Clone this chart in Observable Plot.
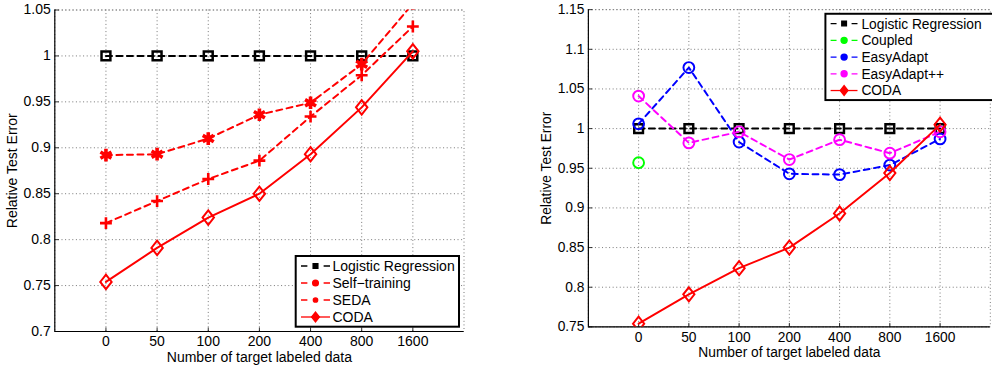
<!DOCTYPE html>
<html>
<head>
<meta charset="utf-8">
<script src="https://cdn.jsdelivr.net/npm/d3@7"></script>
<script src="https://cdn.jsdelivr.net/npm/@observablehq/plot@0.6"></script>
<style>
  html, body { margin: 0; padding: 0; background: #fff; }
  #root { position: relative; width: 992px; height: 367px; overflow: hidden; background: #fff; }
  #left { position: absolute; left: 0; top: 0; }
  #right { position: absolute; left: 500px; top: 0; }
  svg { font-family: "Liberation Sans", Arial, Helvetica, sans-serif; }
</style>
</head>
<body>
<div id="root"><div id="left"></div><div id="right"></div></div>
<script>
// ---------- data ----------
const xLabels = ["0", "50", "100", "200", "400", "800", "1600"];
const leftYTicks = [0.7, 0.75, 0.8, 0.85, 0.9, 0.95, 1, 1.05];
const rightYTicks = [0.75, 0.8, 0.85, 0.9, 0.95, 1, 1.05, 1.1, 1.15];

const logistic = [1, 1, 1, 1, 1, 1, 1];
const selfTraining = [0.892, 0.893, 0.910, 0.936, 0.949, 0.991, 1.057];
const seda = [0.818, 0.842, 0.866, 0.886, 0.934, 0.979, 1.032];
const coda = [0.754, 0.791, 0.824, 0.850, 0.893, 0.944, 1.005];
const coupled = [0.957];
const easyAdapt = [1.006, 1.077, 0.983, 0.943, 0.942, 0.954, 0.987];
const easyAdaptPP = [1.041, 0.982, 0.996, 0.961, 0.986, 0.969, 0.996];

const leftNames = ["Logistic Regression", "Self\u2212training", "SEDA", "CODA"];
const rightNames = ["Logistic Regression", "Coupled", "EasyAdapt", "EasyAdapt++", "CODA"];

// ---------- styles ----------
const tallDiamond = {
  draw(ctx, size) {
    const r = Math.sqrt(size / Math.PI);
    const w = r * 0.95, h = r * 1.2;
    ctx.moveTo(0, -h); ctx.lineTo(w, 0); ctx.lineTo(0, h); ctx.lineTo(-w, 0); ctx.closePath();
  }
};
const tickUp = {draw(ctx) { ctx.moveTo(0, 0); ctx.lineTo(0, -4); }};
const tickRight = {draw(ctx) { ctx.moveTo(0, 0); ctx.lineTo(4, 0); }};

const leftSeries = [
  {name: leftNames[0], values: logistic, color: "#000", dash: "6,4.5", symbol: "square", r: 5, sw: 2.5, legendR: 2.6},
  {name: leftNames[1], values: selfTraining, color: "#ff0000", dash: "6,4.5", symbol: "asterisk", r: 6, sw: 3.6, legendR: 2.8, legendSymbol: "circle"},
  {name: leftNames[2], values: seda, color: "#ff0000", dash: "6,4.5", symbol: "plus", r: 3.9, sw: 2.6, legendR: 2.1, legendSymbol: "circle"},
  {name: leftNames[3], values: coda, color: "#ff0000", dash: null, symbol: tallDiamond, r: 6, sw: 2, legendR: 4}
];
const rightSeries = [
  {name: rightNames[0], values: logistic, color: "#000", dash: "6,4.5", symbol: "square", r: 5, sw: 2.5, legendR: 2.6},
  {name: rightNames[1], values: coupled, color: "#00ff00", dash: "6,4.5", symbol: "circle", r: 5.5, sw: 2, legendR: 3},
  {name: rightNames[2], values: easyAdapt, color: "#0000ff", dash: "6,4.5", symbol: "circle", r: 5.5, sw: 2, legendR: 3},
  {name: rightNames[3], values: easyAdaptPP, color: "#ff00ff", dash: "6,4.5", symbol: "circle", r: 5.5, sw: 2, legendR: 3},
  {name: rightNames[4], values: coda, color: "#ff0000", dash: null, symbol: tallDiamond, r: 6, sw: 2, legendR: 4}
];

const fmt = d => String(+d.toFixed(2));
const xIdx = xLabels.map((_, i) => i);

function makeChart({series, yTicks, width, marginLeft, marginRight, marginTop, marginBottom, legend}) {
  const yDomain = [yTicks[0], yTicks[yTicks.length - 1]];
  const grid = {stroke: "#777", strokeOpacity: 1, strokeWidth: 1, strokeDasharray: "1,2.6"};
  const marks = [
    Plot.frame({...grid}),
    Plot.gridX(xIdx, grid),
    Plot.gridY(yTicks, grid),
    Plot.axisX(xIdx, {tickFormat: i => xLabels[i], tickSize: 0, tickPadding: 5, fontSize: 14, label: null}),
    Plot.axisY(yTicks, {tickFormat: fmt, tickSize: 0, tickPadding: 4, fontSize: 14, label: null}),
    Plot.dot(xIdx, {x: d => d, y: () => yDomain[0], symbol: () => tickUp, r: 1, stroke: "#000", strokeWidth: 0.8}),
    Plot.dot(yTicks, {x: () => -1, y: d => d, symbol: () => tickRight, r: 1, stroke: "#000", strokeWidth: 0.8}),
    Plot.ruleX([-1], {stroke: "#000", strokeWidth: 1.2}),
    Plot.ruleY([yDomain[0]], {stroke: "#000", strokeWidth: 1.2}),
    Plot.text(["Number of target labeled data"], {frameAnchor: "bottom", lineAnchor: "middle", textAnchor: "middle", dy: 26.5, fontSize: 14, fill: "#000"}),
    Plot.text(["Relative Test Error"], {frameAnchor: "left", lineAnchor: "middle", textAnchor: "middle", dx: -42.5, rotate: -90, fontSize: 14, fill: "#000"})
  ];
  for (const s of series) {
    const data = s.values.map((v, i) => ({i, v}));
    if (data.length > 1) {
      marks.push(Plot.line(data, {x: "i", y: "v", stroke: s.color, strokeWidth: 2, strokeDasharray: s.dash || undefined, clip: true}));
    }
    marks.push(Plot.dot(data, {x: "i", y: "v", symbol: () => s.symbol, r: s.r, stroke: s.color, strokeWidth: s.sw, fill: "none", clip: true}));
  }
  const svg = Plot.plot({
    width, height: 367, marginLeft, marginRight, marginTop, marginBottom,
    style: {fontFamily: '"Liberation Sans", Arial, Helvetica, sans-serif', fontSize: "14px", color: "#000", background: "#fff", overflow: "visible"},
    x: {type: "linear", domain: [-1, 7]},
    y: {type: "linear", domain: yDomain},
    marks
  });
  // legend
  const g = d3.select(svg).append("g").attr("text-anchor", "start");
  g.append("rect").attr("x", legend.x).attr("y", legend.y).attr("width", legend.w).attr("height", legend.h)
    .attr("fill", "#fff").attr("stroke", "#000").attr("stroke-width", 2);
  series.forEach((s, k) => {
    const cy = legend.y + 10 + k * legend.dy;
    const len = legend.lx2 - legend.lx1;
    g.append("line").attr("x1", legend.lx1).attr("x2", legend.lx2).attr("y1", cy).attr("y2", cy)
      .attr("stroke", s.color).attr("stroke-width", 1.3)
      .attr("stroke-dasharray", s.dash ? `${len * 0.22},${len * 0.56}` : null);
    const sym = s.legendSymbol === "circle" ? d3.symbolCircle : (s.symbol === "square" ? d3.symbolSquare : (s.symbol === "circle" ? d3.symbolCircle : tallDiamond));
    const rr = s.legendR;
    g.append("path").attr("d", d3.symbol(sym, rr * rr * Math.PI)())
      .attr("transform", `translate(${legend.mx},${cy})`)
      .attr("fill", s.color).attr("stroke", s.color).attr("stroke-width", 1.5);
    g.append("text").attr("x", legend.tx).attr("y", cy).attr("dy", "0.36em")
      .attr("text-anchor", "start").attr("font-size", 14).attr("fill", "#000").text(s.name);
  });
  return svg;
}

document.getElementById("left").append(makeChart({
  series: leftSeries, yTicks: leftYTicks, width: 480,
  marginLeft: 54.3, marginRight: 16.5, marginTop: 9.5, marginBottom: 36,
  legend: {x: 295.7, y: 256, w: 163.3, h: 70.7, dy: 17, lx1: 301, lx2: 330, mx: 315.5, tx: 332.5}
}));
document.getElementById("right").append(makeChart({
  series: rightSeries, yTicks: rightYTicks, width: 500,
  marginLeft: 89.3, marginRight: 2.2, marginTop: 9.3, marginBottom: 35.3,
  legend: {x: 330.7, y: 14, w: 200, h: 87.7, dy: 17, lx1: 336, lx2: 363.3, mx: 349.7, tx: 367.3}
}));
</script>
</body>
</html>
